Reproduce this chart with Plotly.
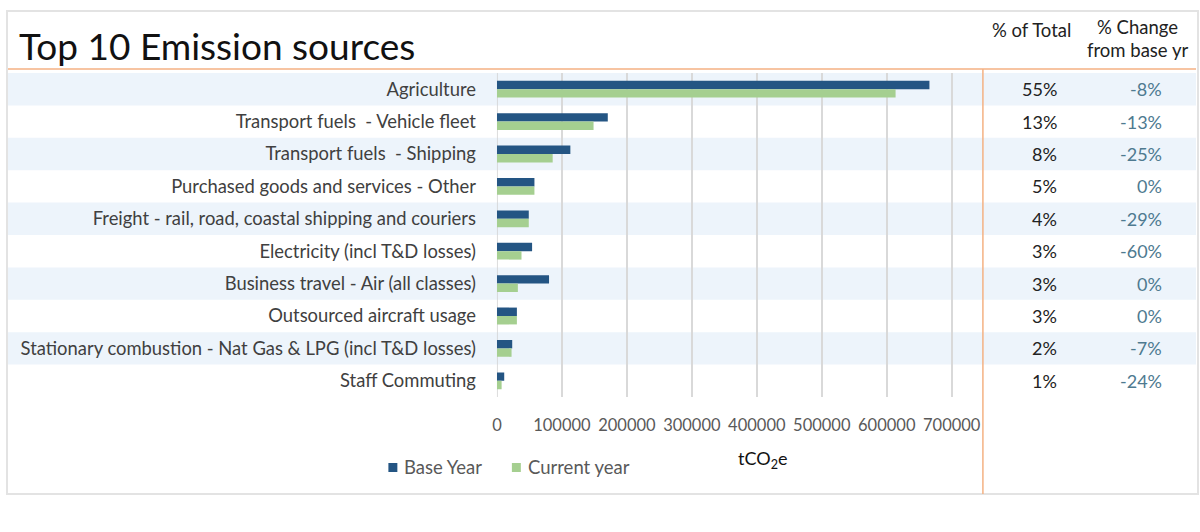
import plotly.graph_objects as go

categories = [
    "Agriculture",
    "Transport fuels  - Vehicle fleet",
    "Transport fuels  - Shipping",
    "Purchased goods and services - Other",
    "Freight - rail, road, coastal shipping and couriers",
    "Electricity (incl T&D losses)",
    "Business travel - Air (all classes)",
    "Outsourced aircraft usage",
    "Stationary combustion - Nat Gas & LPG (incl T&D losses)",
    "Staff Commuting",
]
base_year = [665700, 170600, 113000, 57700, 49000, 54100, 80200, 30700, 23500, 11200]
current_year = [613600, 148700, 85800, 57700, 49000, 37800, 32200, 30700, 22500, 7200]
pct_total = ["55%", "13%", "8%", "5%", "4%", "3%", "3%", "3%", "2%", "1%"]
pct_change = ["-8%", "-13%", "-25%", "0%", "-29%", "-60%", "0%", "0%", "-7%", "-24%"]
x_ticks = [0, 100000, 200000, 300000, 400000, 500000, 600000, 700000]
series_names = ["Base Year", "Current year"]
series_colors = ["#245583", "#A5CF90"]

W, H = 1200, 532
FONT = "Lato"


def px(x):
    return x / W


def py(y):
    return 1 - y / H


fig = go.Figure()
for name, vals, col in zip(series_names, [base_year, current_year], series_colors):
    fig.add_trace(go.Bar(
        y=categories, x=vals, orientation="h", name=name,
        marker=dict(color=col, line=dict(width=0)), showlegend=False,
    ))

shapes = []
for i in range(0, len(categories), 2):
    shapes.append(dict(type="rect", xref="paper", yref="y",
                       x0=px(3), x1=px(1196), y0=i - 0.5, y1=i + 0.5,
                       fillcolor="#EDF4FB", line=dict(width=0), layer="below"))
shapes.append(dict(type="rect", xref="paper", yref="paper",
                   x0=px(2), x1=px(1198), y0=py(494), y1=py(11),
                   line=dict(color="#E3E3E3", width=2), layer="below"))
shapes.append(dict(type="line", xref="paper", yref="paper",
                   x0=px(3), x1=px(1196), y0=py(69), y1=py(69),
                   line=dict(color="#F4B183", width=1.5)))
shapes.append(dict(type="line", xref="paper", yref="paper",
                   x0=px(982), x1=px(982), y0=py(69), y1=py(494),
                   line=dict(color="#F4B183", width=1.5)))
shapes.append(dict(type="line", xref="x", yref="paper", x0=0, x1=0,
                   y0=py(397), y1=py(73),
                   line=dict(color="#D0D0D0", width=1.5), layer="below"))

annotations = [
    dict(text="Top 10 Emission sources", xref="paper", yref="paper",
         x=px(12), y=py(45), xanchor="left", yanchor="middle", showarrow=False,
         font=dict(family=FONT, size=37, color="#111111")),
    dict(text="% of Total", xref="paper", yref="paper",
         x=px(1031), y=py(30), xanchor="center", yanchor="middle", showarrow=False,
         font=dict(family=FONT, size=18.5, color="#222222")),
    dict(text="% Change", xref="paper", yref="paper",
         x=px(1137), y=py(27), xanchor="center", yanchor="middle", showarrow=False,
         font=dict(family=FONT, size=18.5, color="#222222")),
    dict(text="from base yr", xref="paper", yref="paper",
         x=px(1137), y=py(50), xanchor="center", yanchor="middle", showarrow=False,
         font=dict(family=FONT, size=18.5, color="#222222")),
    dict(text="tCO<sub>2</sub>e", xref="paper", yref="paper",
         x=px(761), y=py(459), xanchor="center", yanchor="middle", showarrow=False,
         font=dict(family=FONT, size=18, color="#111111")),
]
for i, c in enumerate(categories):
    annotations.append(dict(text=pct_total[i], xref="paper", yref="y",
                            x=px(1058), y=c, xanchor="right", yanchor="middle",
                            showarrow=False,
                            font=dict(family=FONT, size=18, color="#222222")))
    annotations.append(dict(text=pct_change[i], xref="paper", yref="y",
                            x=px(1164), y=c, xanchor="right", yanchor="middle",
                            showarrow=False,
                            font=dict(family=FONT, size=18, color="#4E7A90")))

legend_x = [385, 509]
for name, col, lx in zip(series_names, series_colors, legend_x):
    shapes.append(dict(type="rect", xref="paper", yref="paper",
                       x0=px(lx), x1=px(lx + 9), y0=py(472), y1=py(463),
                       fillcolor=col, line=dict(width=0)))
    annotations.append(dict(text=name, xref="paper", yref="paper",
                            x=px(lx + 14), y=py(467), xanchor="left", yanchor="middle",
                            showarrow=False,
                            font=dict(family=FONT, size=18.5, color="#595959")))

fig.update_layout(
    width=W, height=H,
    margin=dict(l=0, r=0, t=0, b=0),
    paper_bgcolor="white", plot_bgcolor="rgba(0,0,0,0)",
    barmode="group", bargap=0.48, bargroupgap=0,
    font=dict(family=FONT, size=18, color="#404040"),
    showlegend=False,
    shapes=shapes, annotations=annotations,
    xaxis=dict(domain=[px(494), px(983.3)], range=[0, 750000],
               tickvals=x_ticks, ticktext=[str(v) for v in x_ticks],
               showgrid=True, gridcolor="#D9D9D9", gridwidth=1.5,
               zeroline=False, showline=False, ticks="",
               ticklabelstandoff=16,
               tickfont=dict(family=FONT, size=16.5, color="#595959")),
    yaxis=dict(domain=[py(397), py(73)], autorange="reversed",
               showgrid=False, zeroline=False, showline=False, ticks="",
               ticklabelstandoff=20,
               tickfont=dict(family=FONT, size=18.4, color="#404040")),
)

fig.write_html("out.html", config={"displayModeBar": False},
               post_script="document.body.style.margin='0';")
